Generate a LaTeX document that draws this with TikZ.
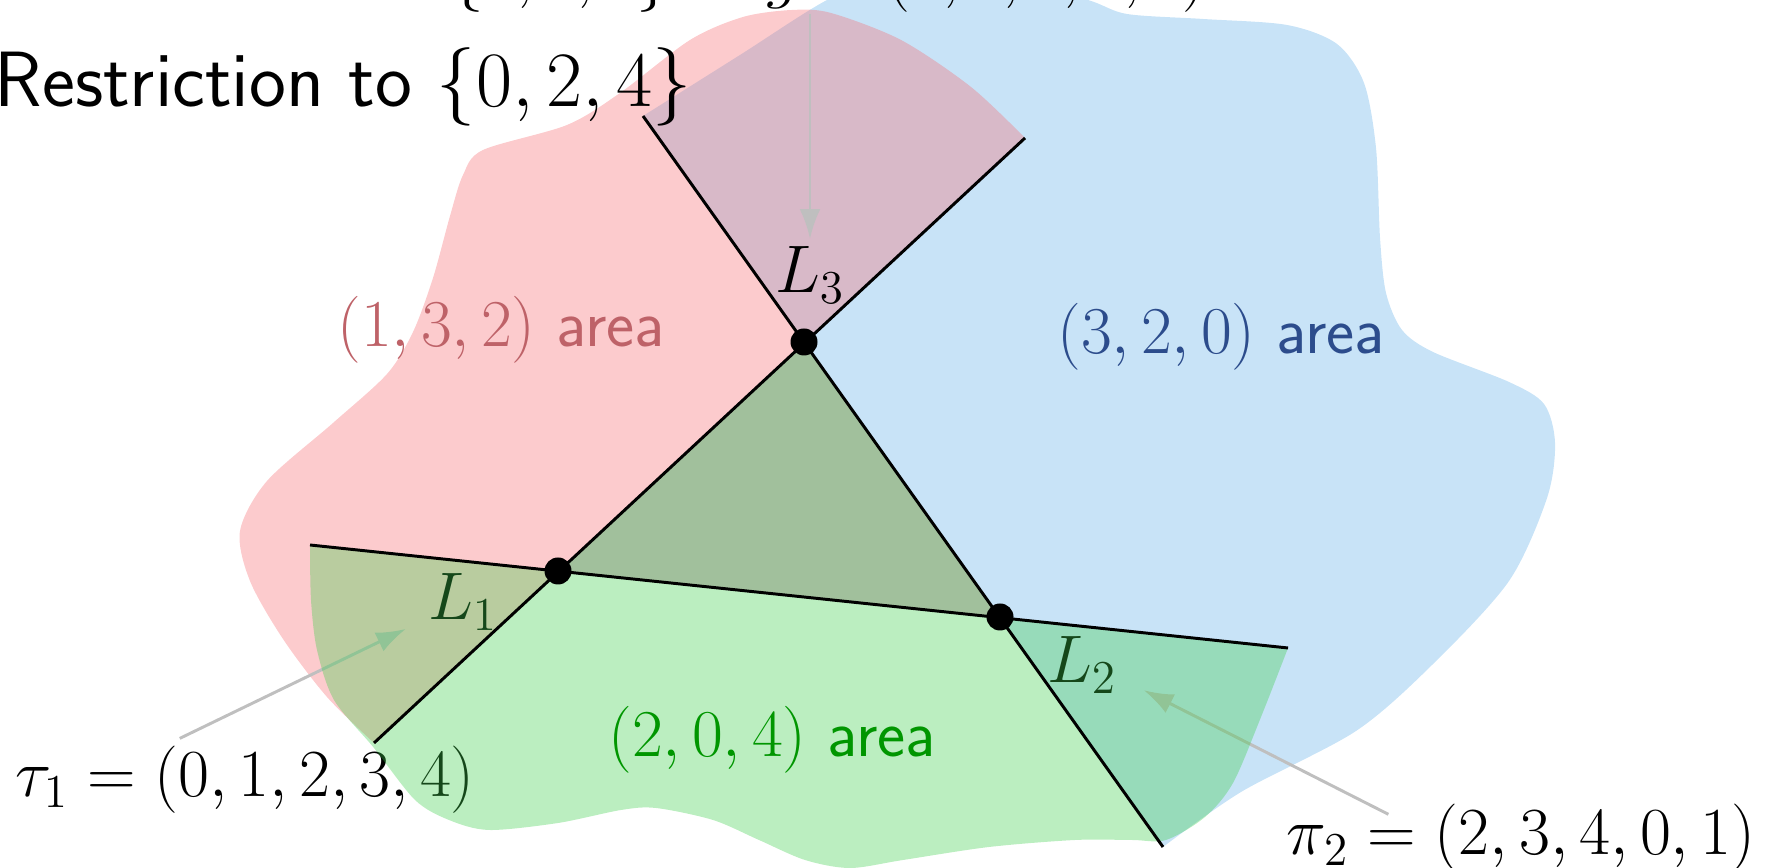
\RequirePackage{fix-cm}
\documentclass[tikz,border=0pt]{standalone}
\usepackage{amsmath}
\usetikzlibrary{arrows.meta}

\definecolor{pinkarea}{RGB}{246,106,112}
\definecolor{bluearea}{RGB}{98,175,232}
\definecolor{greenarea}{RGB}{61,206,75}
\definecolor{pinktext}{RGB}{190,98,104}
\definecolor{bluetext}{RGB}{44,76,140}
\definecolor{greentext}{RGB}{0,150,0}

\begin{document}
\begin{tikzpicture}[
  x=0.95cm, y=0.95cm,
  area/.style={fill opacity=0.35},
  cutline/.style={black, thick},
  vertex/.style={circle, fill=black, minimum size=7.3pt, inner sep=0pt},
  pointer/.style={-{Latex[length=8pt, width=5.6pt]}, black!25, line width=0.8pt},
  arealbl/.style={font=\sffamily\fontsize{18.1}{22}\selectfont, anchor=base},
  lbl/.style={font=\fontsize{18.2}{22}\selectfont, inner sep=2pt, anchor=base}
]
\useasboundingbox (0,0) rectangle (17.70,8.68);

% Corners of the middle triangle
\coordinate (A) at (5.58,2.97);
\coordinate (B) at (10.00,2.51);
\coordinate (C) at (8.04,5.26);

% Free ends of the three cuts
\coordinate (ABw) at (3.10,3.23);
\coordinate (ABe) at (12.88,2.20);
\coordinate (ACsw) at (3.74,1.25);
\coordinate (ACne) at (10.25,7.30);
\coordinate (BCnw) at (6.43,7.52);
\coordinate (BCse) at (11.63,0.21);

% (3,2,0) area
\fill[bluearea, area] plot[smooth] coordinates {(BCnw) (7.40,8.13) (8.27,8.68) (9.00,8.98)
    (10.00,8.93) (10.88,8.68) (11.27,8.54) (12.03,8.49) (12.87,8.43) (13.37,8.24)
    (13.64,7.85) (13.76,7.20) (13.80,6.30) (13.86,5.75) (14.02,5.38) (14.33,5.16)
    (15.09,4.86) (15.44,4.64) (15.55,4.25) (15.47,3.70) (15.09,2.87) (14.33,2.04)
    (13.56,1.37) (12.41,0.76) (BCse)}
  -- (B) -- (A) -- (C) -- cycle;

% (1,3,2) area
\fill[pinkarea, area] plot[smooth] coordinates {(ACsw) (3.27,1.71) (2.83,2.29) (2.50,2.87)
    (2.40,3.37) (2.67,3.87) (3.33,4.45) (3.87,4.94) (4.13,5.36) (4.33,5.90) (4.50,6.52)
    (4.63,6.93) (4.83,7.18) (5.67,7.43) (6.20,7.75) (6.90,8.28) (7.43,8.51) (7.92,8.58)
    (8.31,8.55) (9.01,8.28) (9.71,7.81) (ACne)}
  -- (C) -- (B) -- (A) -- cycle;

% Captions
\node[font=\sffamily\fontsize{21.2}{26}\selectfont, anchor=base west, inner sep=0pt] (restr)
  at (-0.06,7.61) {Restriction to $\{0,2,4\}$};
\node[font=\sffamily\fontsize{18.2}{22}\selectfont, anchor=base west, inner sep=0pt] (ext3)
  at (4.50,8.72) {$\{1,3,4\}$ to $g = (1,3,4,0,2)$};

% Cut labels and permutations
\node[lbl] (labL1) at (4.63,2.48) {$L_1$};
\node[lbl] (labL2) at (10.82,1.85) {$L_2$};
\node[lbl] (labL3) at (8.10,5.75) {$L_3$};
\node[lbl] (tau1) at (2.45,0.71) {$\tau_1 = (0,1,2,3,4)$};
\node[lbl] (pi2) at (15.21,0.13) {$\pi_2 = (2,3,4,0,1)$};

\draw[pointer] (ext3.south -| labL3.north) -- (labL3.north);
\draw[pointer, shorten >=1.5mm] ([xshift=-6.2mm]tau1.north) -- (labL1.205);
\draw[pointer, shorten >=2mm] ([xshift=-12.6mm, yshift=-1.7mm]pi2.north) -- (labL2.-20);

% (2,0,4) area, on top
\fill[greenarea, area] plot[smooth] coordinates {(ABw) (3.11,2.68) (3.17,2.18) (3.34,1.68)
    (3.74,1.20) (4.15,0.68) (4.49,0.48) (4.89,0.38) (5.58,0.45) (6.21,0.58) (6.56,0.60)
    (7.13,0.48) (7.59,0.28) (8.05,0.08) (8.50,0.00) (9.03,0.08) (9.89,0.21) (10.75,0.28)
    (11.32,0.28) (11.66,0.28) (12.05,0.51) (12.33,0.85) (12.61,1.51) (ABe)}
  -- (B) -- (C) -- (A) -- cycle;

% Cuts
\draw[cutline] (ABw) -- (ABe);
\draw[cutline] (ACsw) -- (ACne);
\draw[cutline] (BCnw) -- (BCse);

\node[vertex] (vA) at (A) {};
\node[vertex] (vB) at (B) {};
\node[vertex] (vC) at (C) {};

% Area names
\node[arealbl, text=pinktext] (a132) at (5.01,5.21) {$(1,3,2)$ area};
\node[arealbl, text=bluetext] (a320) at (12.21,5.14) {$(3,2,0)$ area};
\node[arealbl, text=greentext] (a204) at (7.72,1.11) {$(2,0,4)$ area};

\end{tikzpicture}
\end{document}
